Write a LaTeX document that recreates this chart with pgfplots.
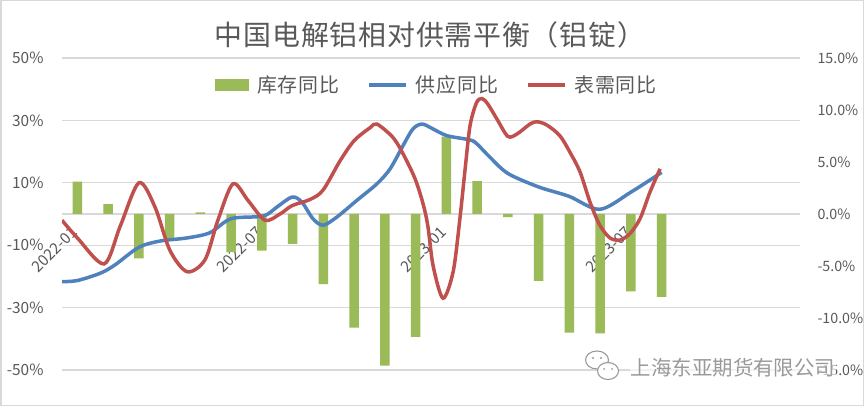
\documentclass[border=0pt]{standalone}
\usepackage{fontspec}
\setmainfont{Noto Sans CJK SC}
\newfontfamily\spaced{Noto Sans CJK SC}[LetterSpace=3]
\newfontfamily\legspaced{Noto Sans CJK SC}[LetterSpace=4]
\usepackage{pgfplots}
\pgfplotsset{compat=1.18}
\definecolor{bargreen}{HTML}{9BBB59}
\definecolor{lblue}{HTML}{4F81BD}
\definecolor{lred}{HTML}{C0504D}
\definecolor{gridgray}{HTML}{D9D9D9}
\definecolor{labgray}{HTML}{595959}
\definecolor{wmgray}{HTML}{9A9A9A}
\begin{document}
\begin{tikzpicture}
\useasboundingbox (0,0) rectangle (864bp,406bp);
\fill[white] (0,0) rectangle (864bp,406bp);
\draw[gridgray, line width=1.5bp] (0.75bp,0.75bp) rectangle (863.25bp,405.25bp);
\node[font=\spaced\fontsize{28}{30}\selectfont, text=labgray] at (430bp,371bp) {中国电解铝相对供需平衡（铝锭）};
\begin{axis}[
  at={(62bp,36bp)}, anchor=south west, scale only axis,
  width=738bp, height=312bp,
  xmin=-0.5, xmax=23.5, ymin=-50, ymax=50,
  axis line style={draw=none}, tick style={draw=none},
  ytick={-50,-30,-10,10,30,50},
  yticklabels={-50\%,-30\%,-10\%,10\%,30\%,50\%},
  ymajorgrids, major grid style={line width=1.3bp, draw=gridgray},
  extra y ticks={0}, extra y tick labels={},
  extra y tick style={ymajorgrids, major grid style={line width=1.3bp, draw=gridgray}},
  yticklabel style={font=\fontsize{15.5}{18}\selectfont, text=labgray, xshift=-15bp},
  xtick={0,6,12,18}, xticklabels={2022-01,2022-07,2023-01,2023-07},
  xticklabel style={rotate=45, anchor=east, font=\fontsize{15.5}{18}\selectfont, text=labgray},
  xticklabel shift=-143bp,
]
\addplot[ybar, bar width=9.5bp, fill=bargreen, draw=none] coordinates {
(0,10.4) (1,3.2) (2,-14.2) (3,-8.4) (4,0.5) (5,-12.2) (6,-11.7) (7,-9.6)
(8,-22.5) (9,-36.4) (10,-48.6) (11,-39.4) (12,24.8) (13,10.5) (14,-1.0)
(15,-21.4) (16,-38.0) (17,-38.3) (18,-24.8) (19,-26.6)};
\end{axis}
\begin{axis}[
  at={(62bp,36bp)}, anchor=south west, scale only axis,
  width=738bp, height=312bp,
  xmin=-0.5, xmax=23.5, ymin=-15, ymax=15,
  axis y line*=right, axis x line=none,
  axis line style={draw=none}, tick style={draw=none},
  ytick={-15,-10,-5,0,5,10,15},
  yticklabels={-15.0\%,-10.0\%,-5.0\%,0.0\%,5.0\%,10.0\%,15.0\%},
  yticklabel style={anchor=west, font=\fontsize{14.3}{17}\selectfont, text=labgray, xshift=14bp},
  legend style={at={(0.508,0.913)}, anchor=center, draw=none, fill=none,
    font=\legspaced\fontsize{20}{22}\selectfont, text=labgray,
    /tikz/every odd column/.append style={column sep=6bp},
    /tikz/every even column/.append style={column sep=26bp}},
  legend columns=3,
  legend image code/.code={\draw[#1] (0bp,0bp) -- (37bp,0bp);},
]
\addlegendimage{fill=bargreen, draw=none, legend image code/.code={\fill[bargreen] (0bp,-6bp) rectangle (34bp,6bp);}}
\addlegendentry{库存同比}
\addplot[lblue, line width=3.5bp, smooth] coordinates {
(-0.5,-6.5) (0.0,-6.4) (0.74,-5.7) (1.22,-4.9) (2.0,-3.2) (2.69,-2.6) (3.57,-2.3)
(4.31,-1.8) (5.0,-0.45) (6.04,-0.2) (6.49,0.67) (6.98,1.63) (7.30,1.15) (7.66,-0.45)
(7.99,-1.08) (8.44,-0.29) (9.09,1.31) (9.74,2.9) (10.17,4.34) (10.59,6.57) (10.91,8.17)
(11.21,8.65) (11.57,8.17) (12.02,7.53) (12.77,7.12) (12.99,6.75) (13.42,5.45) (14.0,3.9)
(15.0,2.6) (15.99,1.7) (16.99,0.45) (18.0,2.1) (19.0,4.0)};
\addlegendentry{供应同比}
\addplot[lred, line width=3.5bp, smooth] coordinates {
(-0.5,-0.6) (0.0,-2.3) (0.87,-4.8) (1.39,-1.2) (2.0,3.0) (2.52,0.7) (3.01,-3.5)
(3.57,-5.55) (4.15,-4.4) (4.57,-0.6) (5.06,2.9) (5.55,1.3) (6.10,-0.6) (6.59,0.0)
(6.98,0.8) (7.57,1.4) (7.99,2.3) (8.54,5.1) (9.0,7.05) (9.52,8.3) (9.74,8.65)
(10.26,7.37) (10.59,5.8) (10.98,3.4) (11.24,1.0) (11.40,-1.2) (11.57,-5.0) (11.89,-8.1)
(12.22,-5.55) (12.44,-0.44) (12.61,4.34) (12.77,8.5) (12.98,10.7) (13.16,11.1)
(13.35,10.56) (13.65,9.1) (14.0,7.46) (14.3,7.7) (14.72,8.65) (14.95,8.87) (15.27,8.55)
(15.69,7.53) (16.02,5.93) (16.35,4.02) (16.67,1.15) (16.99,-1.08) (17.32,-2.3)
(17.65,-2.5) (17.97,-1.88) (18.30,-0.44) (18.62,2.1) (18.95,4.34)};
\addlegendentry{表需同比}
\end{axis}
% watermark
\begin{scope}[line width=1.1bp, draw=wmgray]
\filldraw[fill=white] (597bp,46bp) ellipse [x radius=11.5bp, y radius=9bp];
\filldraw[fill=white] (608bp,35bp) ellipse [x radius=10.5bp, y radius=8.5bp];
\fill[wmgray] (593bp,48bp) circle (1.1bp) (601bp,48bp) circle (1.1bp)
  (604bp,37bp) circle (1bp) (612bp,37bp) circle (1bp);
\end{scope}
\node[fill=white, fill opacity=0.65, text opacity=1, text=wmgray, inner sep=0.5bp,
  font=\fontsize{20.5}{22}\selectfont] at (733bp,38bp) {上海东亚期货有限公司};
\end{tikzpicture}
\end{document}
